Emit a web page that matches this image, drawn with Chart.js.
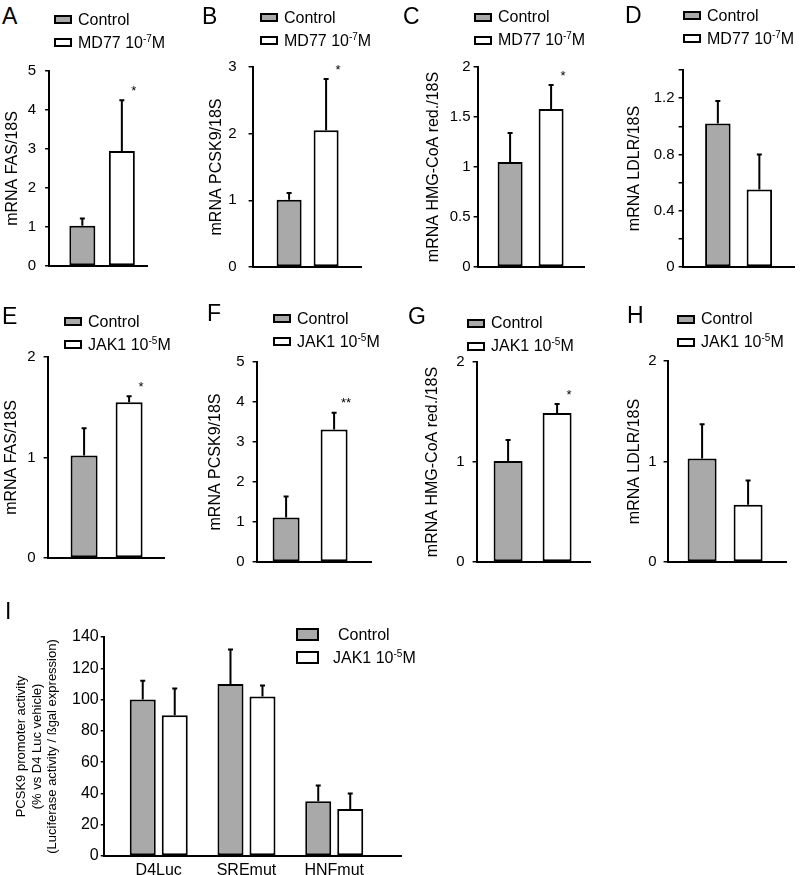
<!DOCTYPE html>
<html>
<head>
<meta charset="utf-8">
<script src="https://cdn.jsdelivr.net/npm/chart.js@4.4.1/dist/chart.umd.min.js"></script>
<style>
html, body { margin: 0; padding: 0; background: #fff; overflow: hidden; }
body { width: 800px; height: 875px; position: relative; font-family: "Liberation Sans", Arial, sans-serif; color: #000; }
canvas { position: absolute; }
.letter { position: absolute; font-size: 23px; line-height: 23px; }
.legend { position: absolute; font-size: 16px; }
.legend .row { display: flex; align-items: center; height: 23px; white-space: nowrap; }
.legend .box { box-sizing: border-box; border: 2px solid #000; flex: none; }
.legend sup { font-size: 10px; vertical-align: 6px; line-height: 0; }
</style>
</head>
<body>
<script>
// ---- data (panels A-H: control vs treatment, mean and upper SD) ----
const panelLetters = ['A', 'B', 'C', 'D', 'E', 'F', 'G', 'H'];
const yTitles = ['mRNA FAS/18S', 'mRNA PCSK9/18S', 'mRNA HMG-CoA red./18S', 'mRNA LDLR/18S',
                 'mRNA FAS/18S', 'mRNA PCSK9/18S', 'mRNA HMG-CoA red./18S', 'mRNA LDLR/18S'];
const controlLabel = 'Control';
const treatNames = ['MD77', 'MD77', 'MD77', 'MD77', 'JAK1', 'JAK1', 'JAK1', 'JAK1'];
const treatExp = ['-7', '-7', '-7', '-7', '-5', '-5', '-5', '-5'];
const ctrlMean = [1.03, 1.01, 1.05, 1.02, 1.02, 1.11, 1.01, 1.03];
const ctrlSd = [0.19, 0.10, 0.29, 0.16, 0.27, 0.53, 0.21, 0.34];
const treatMean = [2.95, 2.05, 1.58, 0.55, 1.55, 3.31, 1.49, 0.57];
const treatSd = [1.30, 0.77, 0.24, 0.25, 0.06, 0.42, 0.09, 0.24];
const sigMarks = ['*', '*', '*', '', '*', '**', '*', ''];
const yMax = [5, 3, 2, 1.4, 2, 5, 2, 2];
const yTickStep = [1, 1, 0.5, 0.2, 1, 1, 1, 1];
const yLabelStep = [1, 1, 0.5, 0.4, 1, 1, 1, 1];

// ---- data (panel I: promoter activity) ----
const promoterLabels = ['D4Luc', 'SREmut', 'HNFmut'];
const promCtrl = [100, 110, 35];
const promCtrlSd = [12, 22, 10];
const promJak = [90, 102, 30];
const promJakSd = [17, 7, 10];
const promTitle = ['PCSK9 promoter activity', '(% vs D4 Luc vehicle)', '(Luciferase activity / \u00dfgal expression)'];
const promMax = 140;
const promStep = 20;

// ---- layout (page pixels) ----
const frames = [
  {L: 49,  T: 71,  R: 147, B: 266, tx: 12.5, pad: 9,  gc: 102,   sp: 39.5, bw: 26,   lx: 54,  ly: 8,     kx: 2,   ky: 8},
  {L: 253, T: 67,  R: 362, B: 267, tx: 217,  pad: 12, gc: 308,   sp: 37,   bw: 25,   lx: 260, ly: 6,     kx: 202, ky: 8},
  {L: 478, T: 67,  R: 585, B: 267, tx: 434,  pad: 3,  gc: 531,   sp: 41,   bw: 25,   lx: 474, ly: 5.5,   kx: 403, ky: 8},
  {L: 683, T: 70,  R: 795, B: 267, tx: 635,  pad: 4,  gc: 739,   sp: 41.5, bw: 25.5, lx: 683, ly: 4,     kx: 625, ky: 7},
  {L: 48,  T: 357, R: 165, B: 558, tx: 12,   pad: 8,  gc: 107,   sp: 45,   bw: 27,   lx: 64,  ly: 310,   kx: 2,   ky: 308},
  {L: 257, T: 362, R: 372, B: 562, tx: 216,  pad: 8,  gc: 310.5, sp: 48,   bw: 27,   lx: 273, ly: 307,   kx: 207, ky: 305},
  {L: 477, T: 362, R: 591, B: 562, tx: 433,  pad: 8,  gc: 533,   sp: 49,   bw: 29,   lx: 467, ly: 311.5, kx: 408, ky: 308},
  {L: 668, T: 361, R: 787, B: 562, tx: 635,  pad: 7,  gc: 725.5, sp: 46,   bw: 29,   lx: 677, ly: 307.5, kx: 627, ky: 307}
];
const frameI = {L: 104, T: 637, R: 402, B: 856, tx: 22, pad: 2, gc: 159, gsp: 87.75, sp: 32, bw: 26, lx: 296, ly: 623, kx: 5, ky: 603};

const gray = '#a9a9a9';
Chart.defaults.font.family = '"Liberation Sans", Arial, sans-serif';
Chart.defaults.color = '#000';

// upper error bars + significance stars
const errorBars = {
  id: 'errorBars',
  afterDatasetsDraw(chart) {
    const ctx = chart.ctx;
    const y = chart.scales.y;
    ctx.save();
    ctx.strokeStyle = '#000';
    ctx.fillStyle = '#000';
    ctx.lineWidth = 2;
    ctx.font = '13px "Liberation Sans", Arial, sans-serif';
    ctx.textAlign = 'center';
    ctx.textBaseline = 'middle';
    chart.data.datasets.forEach((ds, di) => {
      chart.getDatasetMeta(di).data.forEach((bar, j) => {
        const top = y.getPixelForValue(ds.data[j] + ds.errors[j]);
        ctx.beginPath();
        ctx.moveTo(bar.x, bar.y);
        ctx.lineTo(bar.x, top);
        ctx.moveTo(bar.x - 2.5, top);
        ctx.lineTo(bar.x + 2.5, top);
        ctx.stroke();
        if (ds.sig && ds.sig[j]) ctx.fillText(ds.sig[j], bar.x + 12, top - 9);
      });
    });
    ctx.restore();
  }
};

function addLetter(f, letter) {
  const d = document.createElement('div');
  d.className = 'letter';
  d.textContent = letter;
  d.style.left = f.kx + 'px';
  d.style.top = (f.ky - 3) + 'px';
  document.body.appendChild(d);
}

function addLegend(f, rows, bw, bh, gap) {
  const d = document.createElement('div');
  d.className = 'legend';
  d.style.left = f.lx + 'px';
  d.style.top = f.ly + 'px';
  d.innerHTML = rows.map(r =>
    `<div class="row"><span class="box" style="width:${bw}px;height:${bh}px;background:${r.fill}"></span>` +
    `<span style="margin-left:${r.gap || gap}px">${r.html}</span></div>`).join('');
  document.body.appendChild(d);
}

function drawPanel(f, opt) {
  const lh = opt.titleSize * opt.titleLH;
  const left = f.tx - lh / 2;
  const yW = f.L - left;
  const pT = 30, pB = 30;
  const w = Math.ceil(yW + (f.R - f.L) + 4);
  const pR = w - yW - (f.R - f.L);
  const h = Math.ceil(pT + (f.B - f.T) + opt.xH + pB);
  const cv = document.createElement('canvas');
  cv.width = w; cv.height = h;
  cv.style.width = w + 'px'; cv.style.height = h + 'px';
  cv.style.left = left + 'px';
  cv.style.top = (f.T - pT) + 'px';
  document.body.appendChild(cv);

  const gsp = f.gsp || (f.R - f.L);
  const catPct = 2 * f.sp / gsp;
  const barPct = f.bw / f.sp;
  const barStyle = {borderColor: '#000', borderWidth: 2, borderSkipped: false,
                    categoryPercentage: catPct, barPercentage: barPct};

  new Chart(cv.getContext('2d'), {
    type: 'bar',
    data: {
      labels: opt.labels,
      datasets: [
        Object.assign({label: opt.names[0], data: opt.ctrl, errors: opt.ctrlSd, backgroundColor: gray}, barStyle),
        Object.assign({label: opt.names[1], data: opt.treat, errors: opt.treatSd, sig: opt.sig, backgroundColor: '#fff'}, barStyle)
      ]
    },
    options: {
      responsive: false,
      animation: false,
      devicePixelRatio: 1,
      layout: {padding: {top: pT, right: pR, left: 0, bottom: pB}},
      plugins: {legend: {display: false}, tooltip: {enabled: false}},
      scales: {
        x: {
          type: 'category',
          offset: true,
          afterBuildTicks: s => { s._startValue = -(f.gc - f.L) / gsp; s._valueRange = (f.R - f.L) / gsp; },
          afterFit: s => { s.height = opt.xH; },
          border: {display: true, color: '#000', width: 2},
          grid: {display: false, drawTicks: false},
          ticks: {display: opt.showX, color: '#000', font: {size: 16}, padding: 5, maxRotation: 0, autoSkip: false}
        },
        y: {
          min: 0,
          max: opt.yMax,
          afterFit: s => { s.width = yW; },
          border: {display: true, color: '#000', width: 2},
          grid: {drawOnChartArea: false, drawTicks: true, tickLength: opt.tickLen, color: '#000', lineWidth: 1.5},
          ticks: {
            stepSize: opt.yStep,
            autoSkip: false,
            padding: f.pad,
            color: '#000',
            font: {size: opt.tickSize},
            callback: v => {
              const r = v / opt.labelStep;
              return Math.abs(r - Math.round(r)) < 1e-6 ? String(parseFloat(v.toFixed(2))) : '';
            }
          },
          title: {display: true, text: opt.title, color: '#000', padding: 0,
                  font: {size: opt.titleSize, lineHeight: opt.titleLH}}
        }
      }
    },
    plugins: [errorBars]
  });
}

// panels A-H
frames.forEach((f, i) => {
  const treatHtml = `${treatNames[i]} 10<sup>${treatExp[i]}</sup>M`;
  drawPanel(f, {
    labels: [''],
    names: [controlLabel, treatNames[i]],
    ctrl: [ctrlMean[i]], ctrlSd: [ctrlSd[i]],
    treat: [treatMean[i]], treatSd: [treatSd[i]], sig: [sigMarks[i]],
    yMax: yMax[i], yStep: yTickStep[i], labelStep: yLabelStep[i],
    title: yTitles[i], titleSize: 16, titleLH: 1.2,
    tickSize: 15, tickLen: 4, xH: 12, showX: false
  });
  addLetter(f, panelLetters[i]);
  addLegend(f, [{fill: gray, html: controlLabel}, {fill: '#fff', html: treatHtml}], 18, 9, 6);
});

// panel I
drawPanel(frameI, {
  labels: promoterLabels,
  names: [controlLabel, 'JAK1'],
  ctrl: promCtrl, ctrlSd: promCtrlSd,
  treat: promJak, treatSd: promJakSd, sig: null,
  yMax: promMax, yStep: promStep, labelStep: promStep,
  title: promTitle, titleSize: 13, titleLH: 1.19,
  tickSize: 16, tickLen: 3, xH: 24, showX: true
});
addLetter(frameI, 'I');
addLegend(frameI, [{fill: gray, html: controlLabel, gap: 19}, {fill: '#fff', html: 'JAK1 10<sup>-5</sup>M'}], 23, 13, 14);
</script>
</body>
</html>
